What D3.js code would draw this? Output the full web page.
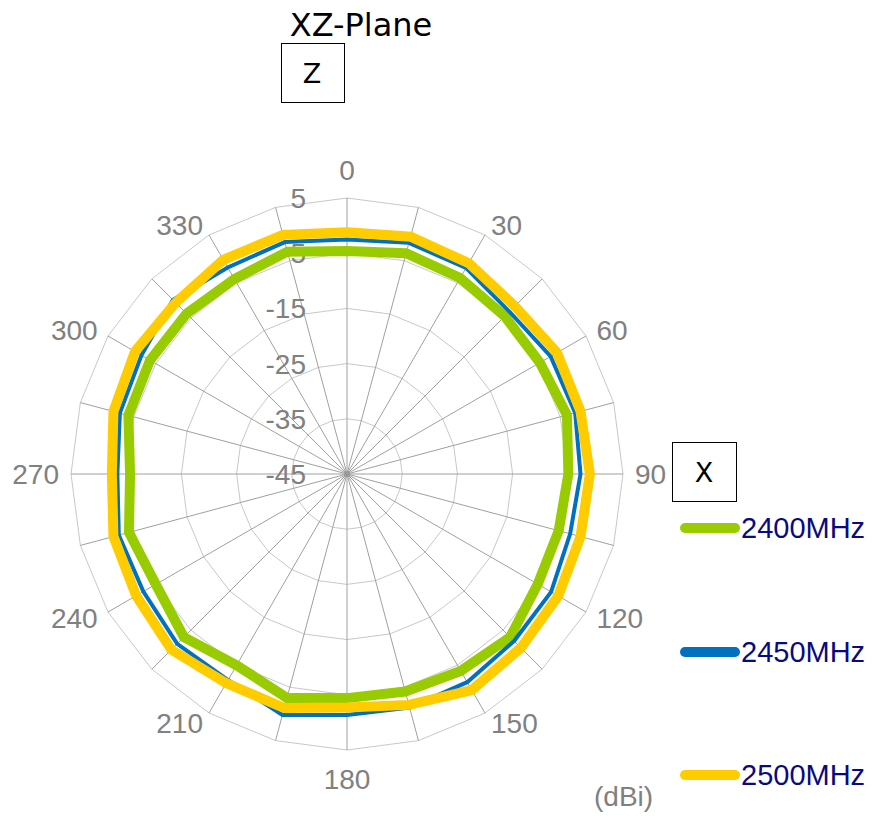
<!DOCTYPE html>
<html><head><meta charset="utf-8">
<script src="https://cdn.jsdelivr.net/npm/d3@7"></script>
<style>body{margin:0;background:#fff;}</style>
</head><body>
<svg id="c" width="872" height="818"></svg>
<script>
const angles = d3.range(0, 360, 15);
const angleLabels = [0, 30, 60, 90, 120, 150, 180, 210, 240, 270, 300, 330];
const radialTicks = [-45, -35, -25, -15, -5, 5];
const seriesNames = ["2400MHz", "2450MHz", "2500MHz"];
const seriesColors = ["#99CC00", "#0070C0", "#FFCC00"];
const seriesWidths = [10, 4, 10];
const s2400 = [-4.6, -3.6, -4.0, -4.6, -4.65, -3.75, -4.9, -5.3, -5.1, -3.2, -3.8, -4.2, -4.4, -3.0, -5.0, -3.2, -5.0, -4.1, -5.7, -4.0, -3.8, -3.9, -4.2, -3.3];
const s2450 = [-2.5, -1.65, -1.9, -3.4, -2.4, -2.2, -2.7, -3.15, -2.3, -2.2, -1.45, -1.2, -1.35, 0.2, -1.9, -1.5, -2.4, -2.2, -3.4, -2.4, -2.0, -0.4, -1.8, -1.5];
const s2500 = [-1.2, -0.5, -0.9, -2.0, -1.07, -1.2, -1.0, -1.2, -0.8, -0.45, 0.2, -1.7, -2.7, -1.1, -1.25, 0.0, -0.9, -1.2, -2.4, -1.2, -0.65, -1.1, -0.2, -0.15];
const seriesData = [s2400, s2450, s2500];

const svg = d3.select("#c");
const cx = 347, cy = 474, R = 276;
const r = d3.scaleLinear().domain([-45, 5]).range([0, R]);
const rad = a => a * Math.PI / 180;
const g = svg.append("g").attr("transform", `translate(${cx},${cy})`);

// rings
const ring = d3.lineRadial().angle(a => rad(a)).curve(d3.curveLinearClosed);
radialTicks.filter(t => t > -45).forEach(t => {
  g.append("path").attr("d", ring.radius(() => r(t))(angles))
    .attr("fill", "none").attr("stroke", "#c8c8c8").attr("stroke-width", 1);
});
// spokes
angles.forEach(a => {
  g.append("line").attr("x1", 0).attr("y1", 0)
    .attr("x2", R * Math.sin(rad(a))).attr("y2", -R * Math.cos(rad(a)))
    .attr("stroke", "#a0a0a0").attr("stroke-width", 1);
});
g.append("circle").attr("r", 3).attr("fill", "#9a9a9a");

// radial tick labels
radialTicks.forEach(t => {
  g.append("text").attr("x", -41).attr("y", -r(t)).attr("dy", "0.36em")
    .attr("text-anchor", "end").attr("font-family", "Liberation Sans, Arial, sans-serif")
    .attr("font-size", 28).attr("fill", "#808080").text(t);
});

// angle labels
const gap = 12;
angleLabels.forEach(a => {
  const x = (R + gap) * Math.sin(rad(a)), y = -(R + gap) * Math.cos(rad(a));
  let anchor = "middle", dy = "0.36em";
  if (a === 0) dy = "-0.2em";
  else if (a === 180) dy = "0.95em";
  else if (a < 180) anchor = "start";
  else anchor = "end";
  g.append("text").attr("x", x).attr("y", y).attr("dy", dy).attr("text-anchor", anchor)
    .attr("font-family", "Liberation Sans, Arial, sans-serif").attr("font-size", 28)
    .attr("fill", "#808080").text(a);
});

// series
const line = d3.lineRadial().angle((d, i) => rad(angles[i])).radius(d => r(d)).curve(d3.curveLinearClosed);
seriesData.forEach((s, k) => {
  g.append("path").attr("d", line(s)).attr("fill", "none")
    .attr("stroke", seriesColors[k]).attr("stroke-width", seriesWidths[k])
    .attr("stroke-linejoin", "miter");
});

// title and boxes
svg.append("text").attr("x", 361).attr("y", 36).attr("text-anchor", "middle")
  .attr("font-family", "DejaVu Sans, sans-serif").attr("font-size", 32).attr("fill", "#000").text("XZ-Plane");
svg.append("rect").attr("x", 281.5).attr("y", 43.5).attr("width", 63).attr("height", 59)
  .attr("fill", "#fff").attr("stroke", "#000").attr("stroke-width", 1);
svg.append("text").attr("x", 312).attr("y", 73).attr("dy", "0.36em").attr("text-anchor", "middle")
  .attr("font-family", "DejaVu Sans, sans-serif").attr("font-size", 27).attr("fill", "#000").text("Z");
svg.append("rect").attr("x", 672.5).attr("y", 442.5).attr("width", 64).attr("height", 59)
  .attr("fill", "#fff").attr("stroke", "#000").attr("stroke-width", 1);
svg.append("text").attr("x", 704).attr("y", 472).attr("dy", "0.36em").attr("text-anchor", "middle")
  .attr("font-family", "DejaVu Sans, sans-serif").attr("font-size", 27).attr("fill", "#000").text("X");

// legend
const legendY = [528, 652, 775];
seriesNames.forEach((n, k) => {
  svg.append("line").attr("x1", 685).attr("x2", 735).attr("y1", legendY[k]).attr("y2", legendY[k])
    .attr("stroke", seriesColors[k]).attr("stroke-width", 10).attr("stroke-linecap", "round");
  svg.append("text").attr("x", 741).attr("y", legendY[k] + 10)
    .attr("font-family", "Liberation Sans, Arial, sans-serif").attr("font-size", 29)
    .attr("fill", "#0a0a80").text(n);
});
svg.append("text").attr("x", 594).attr("y", 806)
  .attr("font-family", "Liberation Sans, Arial, sans-serif").attr("font-size", 28)
  .attr("fill", "#808080").text("(dBi)");
</script>
</body></html>
